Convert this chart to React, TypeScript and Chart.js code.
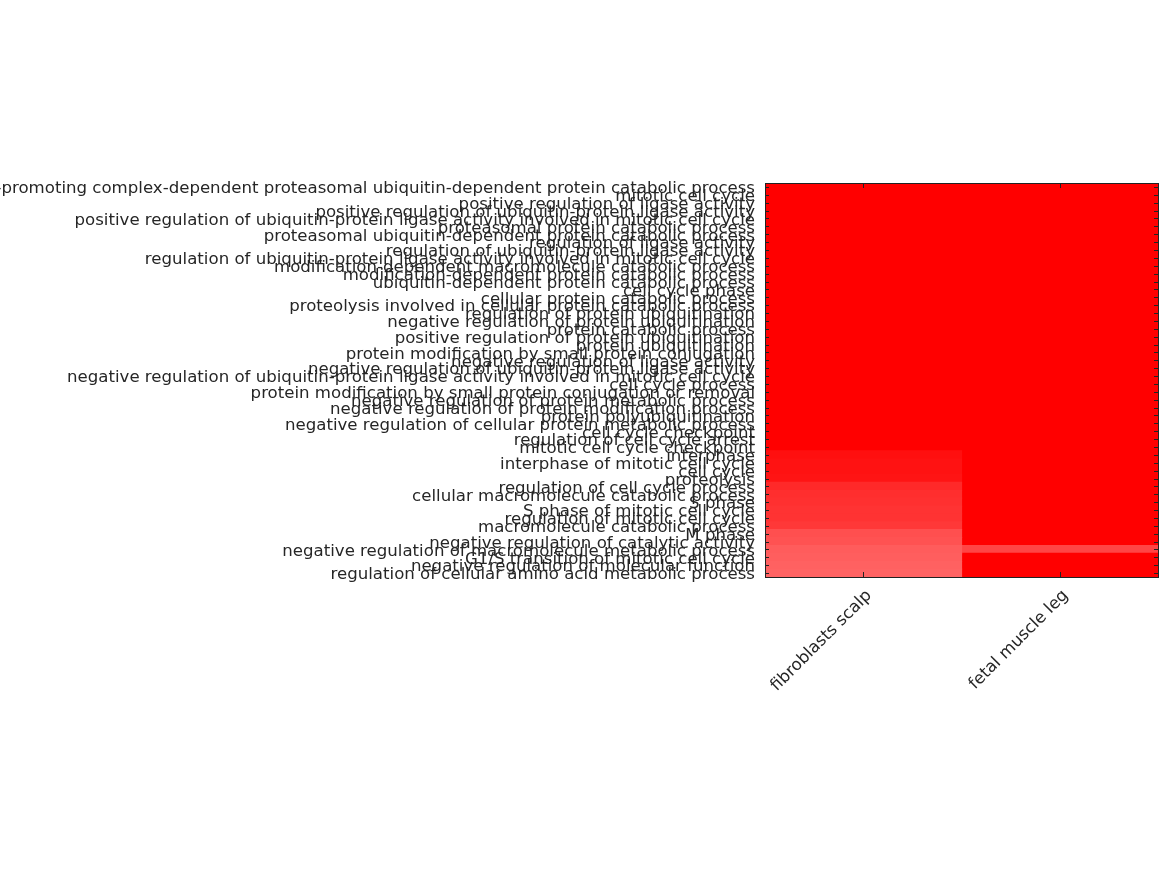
import React, { useEffect, useRef } from "react";
import { Chart, registerables } from "chart.js";

Chart.register(...registerables);

const columns = ["fibroblasts scalp", "fetal muscle leg"];

const terms = [
  "anaphase-promoting complex-dependent proteasomal ubiquitin-dependent protein catabolic process",
  "mitotic cell cycle",
  "positive regulation of ligase activity",
  "positive regulation of ubiquitin-protein ligase activity",
  "positive regulation of ubiquitin-protein ligase activity involved in mitotic cell cycle",
  "proteasomal protein catabolic process",
  "proteasomal ubiquitin-dependent protein catabolic process",
  "regulation of ligase activity",
  "regulation of ubiquitin-protein ligase activity",
  "regulation of ubiquitin-protein ligase activity involved in mitotic cell cycle",
  "modification-dependent macromolecule catabolic process",
  "modification-dependent protein catabolic process",
  "ubiquitin-dependent protein catabolic process",
  "cell cycle phase",
  "cellular protein catabolic process",
  "proteolysis involved in cellular protein catabolic process",
  "regulation of protein ubiquitination",
  "negative regulation of protein ubiquitination",
  "protein catabolic process",
  "positive regulation of protein ubiquitination",
  "protein ubiquitination",
  "protein modification by small protein conjugation",
  "negative regulation of ligase activity",
  "negative regulation of ubiquitin-protein ligase activity",
  "negative regulation of ubiquitin-protein ligase activity involved in mitotic cell cycle",
  "cell cycle process",
  "protein modification by small protein conjugation or removal",
  "negative regulation of protein metabolic process",
  "negative regulation of protein modification process",
  "protein polyubiquitination",
  "negative regulation of cellular protein metabolic process",
  "cell cycle checkpoint",
  "regulation of cell cycle arrest",
  "mitotic cell cycle checkpoint",
  "interphase",
  "interphase of mitotic cell cycle",
  "cell cycle",
  "proteolysis",
  "regulation of cell cycle process",
  "cellular macromolecule catabolic process",
  "S phase",
  "S phase of mitotic cell cycle",
  "regulation of mitotic cell cycle",
  "macromolecule catabolic process",
  "M phase",
  "negative regulation of catalytic activity",
  "negative regulation of macromolecule metabolic process",
  "G1/S transition of mitotic cell cycle",
  "negative regulation of molecular function",
  "regulation of cellular amino acid metabolic process",
];

// enrichment intensity (1 = strongest, pure red)
const fibroblastsScalp = [
  1, 1, 1, 1, 1, 1, 1, 1, 1, 1,
  1, 1, 1, 1, 1, 1, 1, 1, 1, 1,
  1, 1, 1, 1, 1, 1, 1, 1, 1, 1,
  1, 1, 1, 1, 0.94, 0.93, 0.93, 0.92, 0.84, 0.82,
  0.81, 0.8, 0.8, 0.78, 0.69, 0.68, 0.64, 0.63, 0.62, 0.61,
];

const fetalMuscleLeg = [
  1, 1, 1, 1, 1, 1, 1, 1, 1, 1,
  1, 1, 1, 1, 1, 1, 1, 1, 1, 1,
  1, 1, 1, 1, 1, 1, 1, 1, 1, 1,
  1, 1, 1, 1, 1, 1, 1, 1, 1, 1,
  1, 1, 1, 1, 1, 1, 0.73, 1, 1, 1,
];

const colorFor = (v: number) => {
  const g = Math.round(255 * (1 - v));
  return `rgb(255,${g},${g})`;
};

const framePlugin = {
  id: "frame",
  afterDraw(chart: any) {
    const { ctx, chartArea } = chart;
    const { left, right, top, bottom } = chartArea;
    const xs = chart.scales.x;
    const ys = chart.scales.y;
    ctx.save();
    ctx.strokeStyle = "#222";
    ctx.lineWidth = 1;
    ctx.beginPath();
    ys.ticks.forEach((_: any, i: number) => {
      const y = Math.round(ys.getPixelForTick(i)) + 0.5;
      ctx.moveTo(left, y);
      ctx.lineTo(left + 4, y);
      ctx.moveTo(right, y);
      ctx.lineTo(right - 4, y);
    });
    xs.ticks.forEach((t: any) => {
      const x = Math.round(xs.getPixelForValue(t.value)) + 0.5;
      ctx.moveTo(x, bottom);
      ctx.lineTo(x, bottom - 5);
      ctx.moveTo(x, top);
      ctx.lineTo(x, top + 5);
    });
    ctx.stroke();
    ctx.strokeRect(Math.round(left) + 0.5, Math.round(top) + 0.5, Math.round(right - left), Math.round(bottom - top));
    ctx.restore();
  },
};

export default function App() {
  const ref = useRef<HTMLCanvasElement | null>(null);

  useEffect(() => {
    if (!ref.current) return;
    const font = { family: "'DejaVu Sans', sans-serif", size: 16.6 };
    const chart = new Chart(ref.current, {
      type: "bar",
      data: {
        labels: terms,
        datasets: [
          {
            label: columns[0],
            data: terms.map(() => [0, 1]) as any,
            backgroundColor: fibroblastsScalp.map(colorFor),
            borderWidth: 0,
            inflateAmount: 0.6,
            grouped: false,
            barPercentage: 1,
            categoryPercentage: 1,
          } as any,
          {
            label: columns[1],
            data: terms.map(() => [1, 2]) as any,
            backgroundColor: fetalMuscleLeg.map(colorFor),
            borderWidth: 0,
            inflateAmount: 0.6,
            grouped: false,
            barPercentage: 1,
            categoryPercentage: 1,
          } as any,
        ],
      },
      options: {
        indexAxis: "y",
        animation: false,
        responsive: true,
        maintainAspectRatio: false,
        layout: { padding: { top: 183, right: 9, left: 0, bottom: 0 } },
        plugins: { legend: { display: false }, tooltip: { enabled: false } },
        scales: {
          x: {
            type: "linear",
            min: 0,
            max: 2,
            grid: { display: false, drawTicks: false },
            border: { display: false },
            afterBuildTicks: (axis: any) => {
              axis.ticks = [{ value: 0.5 }, { value: 1.5 }];
            },
            afterFit: (axis: any) => {
              axis.height = 298;
            },
            ticks: {
              autoSkip: false,
              minRotation: 45,
              maxRotation: 45,
              padding: 9,
              labelOffset: 6,
              color: "#262626",
              font,
              callback: (v: any) => columns[Math.floor(Number(v))],
            },
          },
          y: {
            type: "category",
            grid: { display: false, drawTicks: false },
            border: { display: false },
            afterFit: (axis: any) => {
              axis.width = 765;
            },
            ticks: {
              autoSkip: false,
              padding: 10,
              labelOffset: 2,
              color: "#262626",
              font,
            },
          },
        },
      },
      plugins: [framePlugin],
    } as any);
    return () => chart.destroy();
  }, []);

  return (
    <div style={{ position: "fixed", left: 0, top: 0, width: 1167, height: 875, background: "#fff" }}>
      <canvas ref={ref} />
    </div>
  );
}
